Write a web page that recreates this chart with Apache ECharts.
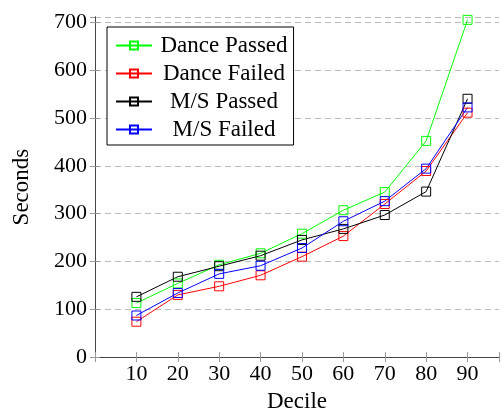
<!DOCTYPE html>
<html>
<head>
<meta charset="utf-8">
<script src="https://cdn.jsdelivr.net/npm/echarts@6/dist/echarts.min.js"></script>
<style>
  html, body { margin: 0; padding: 0; background: #fff; }
  #chart { width: 502px; height: 418px; }
</style>
</head>
<body>
<div id="chart"></div>
<script>
// deciles on the x axis
const deciles = [10, 20, 30, 40, 50, 60, 70, 80, 90];
// seconds per decile
const dancePassed = [113, 154, 193, 217, 258, 307, 345, 452, 705];
const danceFailed = [74, 130, 148, 171, 210, 253, 320, 389, 511];
const msPassed = [126, 168, 190, 212, 245, 268, 297, 346, 540];
const msFailed = [87, 134, 174, 191, 228, 284, 326, 394, 522];
const seriesNames = ["Dance Passed", "Dance Failed", "M/S Passed", "M/S Failed"];
const seriesColors = ["#00ff00", "#ff0000", "#000000", "#0000ff"];
const yTicks = [0, 100, 200, 300, 400, 500, 600, 700];

const font = "Liberation Serif";
const chart = echarts.init(document.getElementById("chart"));

function makeSeries(name, values, color) {
  return {
    name: name,
    type: "line",
    xAxisIndex: 0,
    yAxisIndex: 0,
    data: deciles.map((d, i) => [d, values[i]]),
    symbol: "rect",
    symbolSize: 9,
    lineStyle: { color: color, width: 1 },
    itemStyle: { color: "rgba(255,255,255,0)", borderColor: color, borderWidth: 1 },
    emphasis: { disabled: true },
    animation: false,
  };
}

const allValues = [dancePassed, danceFailed, msPassed, msFailed];

chart.setOption({
  animation: false,
  grid: { left: 95, right: 1, top: 17, bottom: 57 },
  legend: {
    orient: "vertical",
    left: 107,
    top: 27,
    padding: [7, 6, 4, 8],
    itemWidth: 36,
    itemHeight: 10,
    itemGap: 5,
    backgroundColor: "#fff",
    borderColor: "#000",
    borderWidth: 1,
    borderRadius: 0,
    data: seriesNames,
    formatter: (name) => "{t|" + name + "}",
    textStyle: {
      fontFamily: font,
      fontSize: 23,
      color: "#000",
      rich: {
        t: { width: 134, height: 24, align: "center", fontFamily: font, fontSize: 23, color: "#000" },
      },
    },
  },
  xAxis: [
    {
      type: "value",
      min: 0,
      max: 97.6,
      interval: 10,
      name: "Decile",
      nameLocation: "middle",
      nameGap: 32,
      nameTextStyle: { fontFamily: font, fontSize: 23, color: "#000" },
      axisLine: { show: true, lineStyle: { color: "#000", width: 1 } },
      axisTick: { show: true, inside: true, length: 5, lineStyle: { color: "#999" } },
      axisLabel: {
        margin: 6,
        fontFamily: font,
        fontSize: 22,
        color: "#000",
        formatter: (v) => (deciles.indexOf(v) >= 0 ? String(v) : ""),
      },
      splitLine: { show: false },
    },
    {
      type: "value",
      position: "top",
      min: 0,
      max: 97.6,
      interval: 10,
      axisLine: { show: true, lineStyle: { color: "#444", width: 1 } },
      axisTick: { show: true, inside: true, length: 5, lineStyle: { color: "#999" } },
      axisLabel: { show: false },
      splitLine: { show: false },
    },
  ],
  yAxis: [
    {
      type: "value",
      min: 0,
      max: 711,
      interval: 100,
      name: "Seconds",
      nameLocation: "middle",
      nameGap: 62,
      nameTextStyle: { fontFamily: font, fontSize: 23, color: "#000" },
      axisLine: { show: true, lineStyle: { color: "#444", width: 1 } },
      axisTick: { show: true, inside: true, length: 5, lineStyle: { color: "#999" } },
      axisLabel: {
        margin: 8,
        fontFamily: font,
        fontSize: 22,
        color: "#000",
        showMaxLabel: false,
        formatter: (v) => (yTicks.indexOf(v) >= 0 ? String(v) : ""),
      },
      splitLine: { show: true, lineStyle: { color: "#bbb", width: 1, type: [6, 4] } },
    },
    {
      type: "value",
      position: "right",
      min: 0,
      max: 711,
      interval: 100,
      axisLine: { show: true, lineStyle: { color: "#444", width: 1 } },
      axisTick: { show: true, inside: true, length: 5, lineStyle: { color: "#999" } },
      axisLabel: { show: false },
      splitLine: { show: false },
    },
  ],
  series: seriesNames.map((n, i) => makeSeries(n, allValues[i], seriesColors[i])),
});
</script>
</body>
</html>
